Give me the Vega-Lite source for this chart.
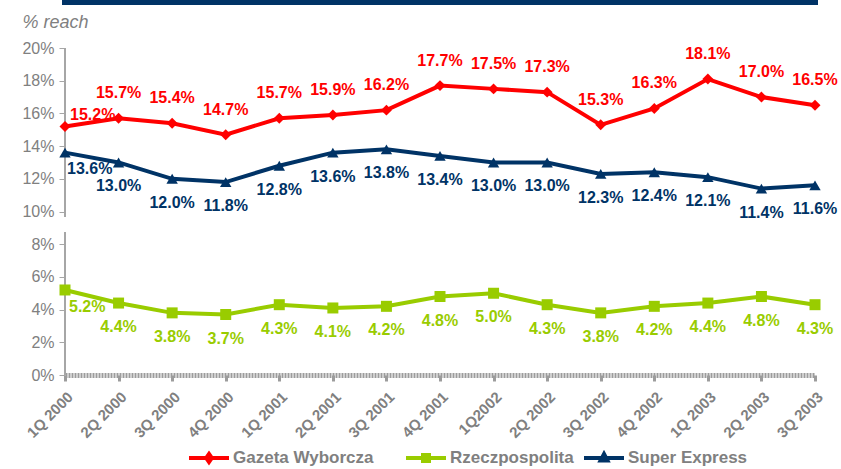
{
  "$schema": "https://vega.github.io/schema/vega-lite/v6.json",
  "width": 750,
  "height": 327,
  "autosize": {"type": "none"},
  "padding": {"left": 65, "top": 48, "right": 26, "bottom": 94},
  "background": "white",
  "config": {
    "view": {"stroke": null},
    "font": "Liberation Sans",
    "text": {"font": "Liberation Sans", "fontSize": 16, "fontWeight": "bold", "baseline": "middle"},
    "legend": {
      "title": null,
      "orient": "none",
      "symbolSize": 1600,
      "symbolStrokeWidth": 4,
      "labelOffset": 2,
      "labelFont": "Liberation Sans",
      "labelFontSize": 17,
      "labelFontWeight": "bold",
      "labelColor": "#808080"
    }
  },
  "data": {
    "values": [
      {"q": "1Q 2000", "series": "Gazeta Wyborcza", "v": 0.152},
      {"q": "2Q 2000", "series": "Gazeta Wyborcza", "v": 0.157},
      {"q": "3Q 2000", "series": "Gazeta Wyborcza", "v": 0.154},
      {"q": "4Q 2000", "series": "Gazeta Wyborcza", "v": 0.147},
      {"q": "1Q 2001", "series": "Gazeta Wyborcza", "v": 0.157},
      {"q": "2Q 2001", "series": "Gazeta Wyborcza", "v": 0.159},
      {"q": "3Q 2001", "series": "Gazeta Wyborcza", "v": 0.162},
      {"q": "4Q 2001", "series": "Gazeta Wyborcza", "v": 0.177},
      {"q": "1Q2002", "series": "Gazeta Wyborcza", "v": 0.175},
      {"q": "2Q 2002", "series": "Gazeta Wyborcza", "v": 0.173},
      {"q": "3Q 2002", "series": "Gazeta Wyborcza", "v": 0.153},
      {"q": "4Q 2002", "series": "Gazeta Wyborcza", "v": 0.163},
      {"q": "1Q 2003", "series": "Gazeta Wyborcza", "v": 0.181},
      {"q": "2Q 2003", "series": "Gazeta Wyborcza", "v": 0.170},
      {"q": "3Q 2003", "series": "Gazeta Wyborcza", "v": 0.165},
      {"q": "1Q 2000", "series": "Super Express", "v": 0.136},
      {"q": "2Q 2000", "series": "Super Express", "v": 0.130},
      {"q": "3Q 2000", "series": "Super Express", "v": 0.120},
      {"q": "4Q 2000", "series": "Super Express", "v": 0.118},
      {"q": "1Q 2001", "series": "Super Express", "v": 0.128},
      {"q": "2Q 2001", "series": "Super Express", "v": 0.136},
      {"q": "3Q 2001", "series": "Super Express", "v": 0.138},
      {"q": "4Q 2001", "series": "Super Express", "v": 0.134},
      {"q": "1Q2002", "series": "Super Express", "v": 0.130},
      {"q": "2Q 2002", "series": "Super Express", "v": 0.130},
      {"q": "3Q 2002", "series": "Super Express", "v": 0.123},
      {"q": "4Q 2002", "series": "Super Express", "v": 0.124},
      {"q": "1Q 2003", "series": "Super Express", "v": 0.121},
      {"q": "2Q 2003", "series": "Super Express", "v": 0.114},
      {"q": "3Q 2003", "series": "Super Express", "v": 0.116},
      {"q": "1Q 2000", "series": "Rzeczpospolita", "v": 0.052},
      {"q": "2Q 2000", "series": "Rzeczpospolita", "v": 0.044},
      {"q": "3Q 2000", "series": "Rzeczpospolita", "v": 0.038},
      {"q": "4Q 2000", "series": "Rzeczpospolita", "v": 0.037},
      {"q": "1Q 2001", "series": "Rzeczpospolita", "v": 0.043},
      {"q": "2Q 2001", "series": "Rzeczpospolita", "v": 0.041},
      {"q": "3Q 2001", "series": "Rzeczpospolita", "v": 0.042},
      {"q": "4Q 2001", "series": "Rzeczpospolita", "v": 0.048},
      {"q": "1Q2002", "series": "Rzeczpospolita", "v": 0.050},
      {"q": "2Q 2002", "series": "Rzeczpospolita", "v": 0.043},
      {"q": "3Q 2002", "series": "Rzeczpospolita", "v": 0.038},
      {"q": "4Q 2002", "series": "Rzeczpospolita", "v": 0.042},
      {"q": "1Q 2003", "series": "Rzeczpospolita", "v": 0.044},
      {"q": "2Q 2003", "series": "Rzeczpospolita", "v": 0.048},
      {"q": "3Q 2003", "series": "Rzeczpospolita", "v": 0.043}
    ]
  },
  "encoding": {
    "x": {
      "field": "q",
      "type": "ordinal",
      "sort": null,
      "scale": {"type": "point", "padding": 0},
      "title": null,
      "axis": {
        "labelAngle": -45,
        "labelFont": "Liberation Sans",
        "labelFontSize": 15,
        "labelFontWeight": "bold",
        "labelColor": "#808080",
        "labelPadding": 8,
        "domainColor": "#9c9c9c",
        "domainWidth": 5,
        "domainDash": [2, 1],
        "tickColor": "#9c9c9c",
        "tickWidth": 3,
        "tickSize": 6,
        "grid": false
      }
    },
    "y": {
      "field": "v",
      "type": "quantitative",
      "scale": {"domain": [0, 0.2], "nice": false, "zero": true},
      "title": "% reach",
      "axis": {
        "values": [0, 0.02, 0.04, 0.06, 0.08, 0.1, 0.12, 0.14, 0.16, 0.18, 0.2],
        "format": ".0%",
        "labelFont": "Liberation Sans",
        "labelFontSize": 16,
        "labelColor": "#808080",
        "labelPadding": 5,
        "domain": false,
        "tickColor": "#a6a6a6",
        "tickSize": 6,
        "grid": false,
        "titleAngle": 0,
        "titleX": -43,
        "titleY": -21,
        "titleAlign": "left",
        "titleBaseline": "alphabetic",
        "titleFont": "Liberation Sans",
        "titleFontSize": 18,
        "titleFontStyle": "italic",
        "titleFontWeight": "normal",
        "titleColor": "#808080"
      }
    }
  },
  "resolve": {"scale": {"color": "independent"}, "legend": {"color": "independent"}},
  "layer": [
    {
      "mark": {"type": "rule", "color": "#003366", "strokeWidth": 5, "strokeCap": "square"},
      "encoding": {"x": null, "y": {"datum": 0.2278}}
    },
    {
      "mark": {"type": "rule", "color": "#a6a6a6", "strokeWidth": 1.5},
      "encoding": {"x": {"datum": "1Q 2000"}, "y": {"datum": 0}, "y2": {"datum": 0.0875}}
    },
    {
      "mark": {"type": "rule", "color": "#a6a6a6", "strokeWidth": 1.5},
      "encoding": {"x": {"datum": "1Q 2000"}, "y": {"datum": 0.0966}, "y2": {"datum": 0.2}}
    },
    {
      "transform": [{"filter": "datum.series === 'Gazeta Wyborcza'"}],
      "mark": {"type": "line", "strokeWidth": 4},
      "encoding": {
        "color": {
          "field": "series",
          "type": "nominal",
          "scale": {"range": ["#FF0000"]},
          "legend": {
            "legendX": 122,
            "legendY": 388,
            "symbolType": "M-1,0H1 M0,-0.2L0.14,0L0,0.2L-0.14,0Z",
            "symbolFillColor": "#FF0000",
            "symbolStrokeColor": "#FF0000"
          }
        }
      }
    },
    {
      "transform": [{"filter": "datum.series === 'Rzeczpospolita'"}],
      "mark": {"type": "line", "strokeWidth": 4},
      "encoding": {
        "color": {
          "field": "series",
          "type": "nominal",
          "scale": {"range": ["#99CC00"]},
          "legend": {
            "legendX": 339,
            "legendY": 388,
            "symbolType": "M-1,0H1 M-0.15,-0.15H0.15V0.15H-0.15Z",
            "symbolFillColor": "#99CC00",
            "symbolStrokeColor": "#99CC00"
          }
        }
      }
    },
    {
      "transform": [{"filter": "datum.series === 'Super Express'"}],
      "mark": {"type": "line", "strokeWidth": 4},
      "encoding": {
        "color": {
          "field": "series",
          "type": "nominal",
          "scale": {"range": ["#003366"]},
          "legend": {
            "legendX": 517,
            "legendY": 388,
            "symbolType": "M-1,0H1 M0,-0.2L0.17,0.12L-0.17,0.12Z",
            "symbolFillColor": "#003366",
            "symbolStrokeColor": "#003366"
          }
        }
      }
    },
    {
      "transform": [{"filter": "datum.series === 'Gazeta Wyborcza'"}],
      "mark": {"type": "point", "filled": true, "opacity": 1, "shape": "diamond", "size": 120, "color": "#FF0000"}
    },
    {
      "transform": [{"filter": "datum.series === 'Rzeczpospolita'"}],
      "mark": {"type": "point", "filled": true, "opacity": 1, "shape": "square", "size": 121, "color": "#99CC00"}
    },
    {
      "transform": [{"filter": "datum.series === 'Super Express'"}],
      "mark": {"type": "point", "filled": true, "opacity": 1, "shape": "triangle-up", "size": 130, "color": "#003366"}
    },
    {
      "transform": [{"filter": "datum.series === 'Gazeta Wyborcza' && datum.q !== '1Q 2000'"}],
      "mark": {"type": "text", "dy": -25, "color": "#FF0000"},
      "encoding": {"text": {"field": "v", "type": "quantitative", "format": ".1%"}}
    },
    {
      "transform": [{"filter": "datum.series === 'Gazeta Wyborcza' && datum.q === '1Q 2000'"}],
      "mark": {"type": "text", "dx": 5, "dy": -11, "align": "left", "color": "#FF0000"},
      "encoding": {"text": {"field": "v", "type": "quantitative", "format": ".1%"}}
    },
    {
      "transform": [{"filter": "datum.series === 'Rzeczpospolita' && datum.q !== '1Q 2000'"}],
      "mark": {"type": "text", "dy": 24, "color": "#99CC00"},
      "encoding": {"text": {"field": "v", "type": "quantitative", "format": ".1%"}}
    },
    {
      "transform": [{"filter": "datum.series === 'Rzeczpospolita' && datum.q === '1Q 2000'"}],
      "mark": {"type": "text", "dx": 4, "dy": 17, "align": "left", "color": "#99CC00"},
      "encoding": {"text": {"field": "v", "type": "quantitative", "format": ".1%"}}
    },
    {
      "transform": [{"filter": "datum.series === 'Super Express' && datum.q !== '1Q 2000'"}],
      "mark": {"type": "text", "dy": 24, "color": "#003366"},
      "encoding": {"text": {"field": "v", "type": "quantitative", "format": ".1%"}}
    },
    {
      "transform": [{"filter": "datum.series === 'Super Express' && datum.q === '1Q 2000'"}],
      "mark": {"type": "text", "dx": 2, "dy": 16, "align": "left", "color": "#003366"},
      "encoding": {"text": {"field": "v", "type": "quantitative", "format": ".1%"}}
    }
  ]
}
